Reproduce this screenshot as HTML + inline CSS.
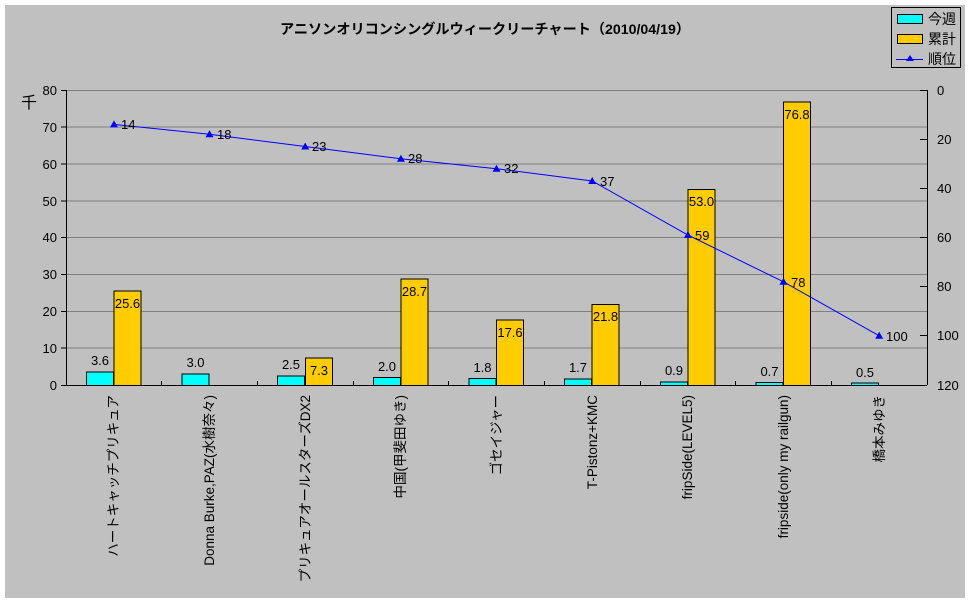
<!DOCTYPE html>
<html><head><meta charset="utf-8"><style>
html,body{margin:0;padding:0;background:#fff}
svg{display:block;font-family:"Liberation Sans","Noto Sans CJK JP",sans-serif}
</style></head><body>
<svg width="970" height="603" xmlns="http://www.w3.org/2000/svg">
<rect x="5" y="5" width="960" height="593" fill="#c0c0c0"/>
<text x="485" y="34" font-size="14" text-anchor="middle" font-weight="bold" textLength="410" lengthAdjust="spacingAndGlyphs">アニソンオリコンシングルウィークリーチャート（2010/04/19）</text>
<g stroke="#808080" stroke-width="1">
<line x1="66" y1="90.5" x2="927" y2="90.5"/><line x1="66" y1="127" x2="927" y2="127"/><line x1="66" y1="164" x2="927" y2="164"/><line x1="66" y1="201" x2="927" y2="201"/><line x1="66" y1="237.5" x2="927" y2="237.5"/><line x1="66" y1="274.5" x2="927" y2="274.5"/><line x1="66" y1="311.5" x2="927" y2="311.5"/><line x1="66" y1="348" x2="927" y2="348"/>
</g>
<g stroke="#000" stroke-width="1">
<line x1="66.5" y1="90" x2="66.5" y2="385"/><line x1="66" y1="385.5" x2="927" y2="385.5"/><line x1="927.5" y1="90" x2="927.5" y2="385"/>
<line x1="61" y1="90.5" x2="66" y2="90.5"/><line x1="61" y1="127" x2="66" y2="127"/><line x1="61" y1="164" x2="66" y2="164"/><line x1="61" y1="201" x2="66" y2="201"/><line x1="61" y1="237.5" x2="66" y2="237.5"/><line x1="61" y1="274.5" x2="66" y2="274.5"/><line x1="61" y1="311.5" x2="66" y2="311.5"/><line x1="61" y1="348" x2="66" y2="348"/><line x1="61" y1="385.5" x2="66" y2="385.5"/>
<line x1="920" y1="90.5" x2="927" y2="90.5"/><line x1="920" y1="139.5" x2="927" y2="139.5"/><line x1="920" y1="188.5" x2="927" y2="188.5"/><line x1="920" y1="237.5" x2="927" y2="237.5"/><line x1="920" y1="286.5" x2="927" y2="286.5"/><line x1="920" y1="335.5" x2="927" y2="335.5"/><line x1="920" y1="385.5" x2="927" y2="385.5"/>
<line x1="161.5" y1="381" x2="161.5" y2="385"/><line x1="257.5" y1="381" x2="257.5" y2="385"/><line x1="353.5" y1="381" x2="353.5" y2="385"/><line x1="448.5" y1="381" x2="448.5" y2="385"/><line x1="544.5" y1="381" x2="544.5" y2="385"/><line x1="640.5" y1="381" x2="640.5" y2="385"/><line x1="735.5" y1="381" x2="735.5" y2="385"/><line x1="831.5" y1="381" x2="831.5" y2="385"/>
</g>
<g font-size="13" text-anchor="end">
<text x="57" y="95">80</text><text x="57" y="132">70</text><text x="57" y="169">60</text><text x="57" y="206">50</text><text x="57" y="242">40</text><text x="57" y="279">30</text><text x="57" y="316">20</text><text x="57" y="353">10</text><text x="57" y="390">0</text>
</g>
<text x="21" y="108" font-size="16">千</text>
<g font-size="13">
<text x="937" y="95">0</text><text x="937" y="144">20</text><text x="937" y="193">40</text><text x="937" y="242">60</text><text x="937" y="291">80</text><text x="937" y="340">100</text><text x="937" y="390">120</text>
</g>
<g fill="#00ffff" stroke="#000">
<rect x="86.5" y="372" width="27" height="13.5"/><rect x="182" y="374" width="27" height="11.5"/><rect x="277.5" y="376" width="27" height="9.5"/><rect x="373.5" y="377.5" width="27" height="8"/><rect x="469" y="378.5" width="27" height="7"/><rect x="564.5" y="379" width="27" height="6.5"/><rect x="660.5" y="382" width="27" height="3.5"/><rect x="756" y="382.5" width="27" height="3"/><rect x="851.5" y="383" width="27" height="2.5"/>
</g>
<g fill="#ffcc00" stroke="#000">
<rect x="114" y="291" width="27" height="94.5"/><rect x="305.5" y="358" width="27" height="27.5"/><rect x="401" y="279" width="27" height="106.5"/><rect x="496.5" y="320" width="27" height="65.5"/><rect x="592" y="304.5" width="27" height="81"/><rect x="688" y="189.5" width="27" height="196"/><rect x="783.5" y="102" width="27" height="283.5"/>
</g>
<g font-size="13" text-anchor="middle">
<text x="100" y="365">3.6</text><text x="195.5" y="367">3.0</text><text x="291" y="369">2.5</text><text x="387" y="371">2.0</text><text x="482.5" y="372">1.8</text><text x="578" y="372">1.7</text><text x="674" y="375">0.9</text><text x="769.5" y="376">0.7</text><text x="865" y="377">0.5</text>
<text x="127.5" y="308">25.6</text><text x="319" y="375">7.3</text><text x="414.5" y="296">28.7</text><text x="510" y="337">17.6</text><text x="605.5" y="321">21.8</text><text x="701.5" y="206">53.0</text><text x="797" y="119">76.8</text>
</g>
<polyline fill="none" stroke="#0000ff" stroke-width="1" points="114,124.4 209.5,134.3 305.2,146.5 400.9,158.8 496.5,168.7 592.2,181 687.9,235 783.5,281.8 879.2,335.8"/>
<g fill="#0000ff">
<path d="M114,120.4l4,7h-8z"/><path d="M209.5,130.3l4,7h-8z"/><path d="M305.2,142.5l4,7h-8z"/><path d="M400.9,154.8l4,7h-8z"/><path d="M496.5,164.7l4,7h-8z"/><path d="M592.2,177l4,7h-8z"/><path d="M687.9,231l4,7h-8z"/><path d="M783.5,277.8l4,7h-8z"/><path d="M879.2,331.8l4,7h-8z"/>
</g>
<g font-size="13">
<text x="121" y="129">14</text><text x="217" y="139">18</text><text x="312" y="151">23</text><text x="408" y="163">28</text><text x="504" y="173">32</text><text x="600" y="186">37</text><text x="695" y="240">59</text><text x="791" y="287">78</text><text x="886" y="341">100</text>
</g>
<g font-size="13.5" text-anchor="end">
<text transform="translate(118,395) rotate(-90)">ハートキャッチプリキュア</text>
<text transform="translate(214,395) rotate(-90)">Donna Burke,PAZ(水樹奈々)</text>
<text transform="translate(310,395) rotate(-90)">プリキュアオールスターズDX2</text>
<text transform="translate(405,395) rotate(-90)">中国(甲斐田ゆき)</text>
<text transform="translate(501,395) rotate(-90)">ゴセイジャー</text>
<text transform="translate(597,395) rotate(-90)">T-Pistonz+KMC</text>
<text transform="translate(692,395) rotate(-90)">fripSide(LEVEL5)</text>
<text transform="translate(788,395) rotate(-90)">fripside(only my railgun)</text>
<text transform="translate(884,395) rotate(-90)">橋本みゆき</text>
</g>
<rect x="891.5" y="7.5" width="69" height="60" fill="#c0c0c0" stroke="#000"/>
<rect x="897.5" y="14.5" width="25" height="9" fill="#00ffff" stroke="#000"/>
<rect x="897.5" y="34.5" width="25" height="9" fill="#ffcc00" stroke="#000"/>
<line x1="896" y1="59.5" x2="923" y2="59.5" stroke="#0000ff"/>
<path d="M910,55l4,6h-8z" fill="#0000ff"/>
<g font-size="14"><text x="928" y="24">今週</text><text x="928" y="44">累計</text><text x="928" y="64">順位</text></g>
</svg>
</body></html>
